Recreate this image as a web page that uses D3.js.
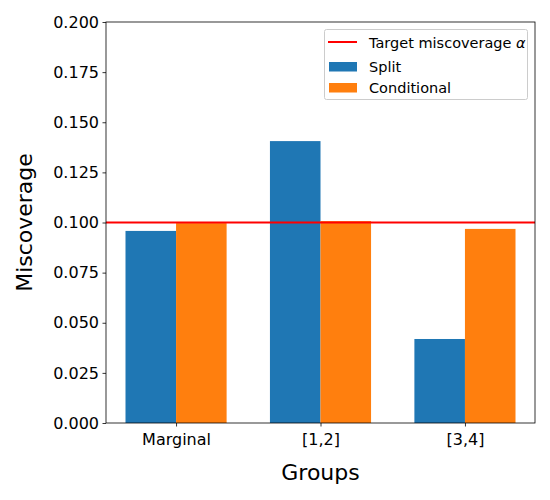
<!DOCTYPE html>
<html><head><meta charset="utf-8">
<script src="https://cdn.jsdelivr.net/npm/d3@7"></script>
<style>body{margin:0;background:#fff}svg{font-family:"DejaVu Sans",sans-serif}</style>
</head><body>
<script>
const groups = ["Marginal", "[1,2]", "[3,4]"];
const splitVals = [0.0958, 0.1406, 0.0419];
const condVals = [0.0997, 0.1007, 0.0968];
const target = 0.1;
const yTicks = [0, 0.025, 0.05, 0.075, 0.1, 0.125, 0.15, 0.175, 0.2];
const seriesNames = ["Split", "Conditional"];
const colors = ["#1f77b4", "#ff7f0e"];

const W = 550, H = 500;
const L = 106, R = 535, T = 22, B = 423;
const svg = d3.select("body").append("svg").attr("width", W).attr("height", H);

const barW = 0.35;
const x = d3.scaleLinear().domain([-0.485, 2.485]).range([L, R]);
const y = d3.scaleLinear().domain([0, 0.2]).range([B, T]);

const series = [splitVals, condVals];
series.forEach((vals, s) => {
  svg.append("g").selectAll("rect").data(vals).enter().append("rect")
    .attr("x", (d, i) => x(i + (s === 0 ? -barW : 0)))
    .attr("width", x(barW) - x(0))
    .attr("y", d => y(d))
    .attr("height", d => B - y(d))
    .attr("fill", colors[s]);
});

svg.append("line").attr("x1", L).attr("x2", R).attr("y1", y(target)).attr("y2", y(target))
  .attr("stroke", "red").attr("stroke-width", 2);

// axes
const yAxis = d3.axisLeft(y).tickValues(yTicks).tickFormat(d3.format(".3f")).tickSizeOuter(0).tickSize(3.5).tickPadding(3.5);
const gy = svg.append("g").attr("transform", `translate(${L},0)`).call(yAxis);
const xAxis = d3.axisBottom(x).tickValues([0, 1, 2]).tickFormat(i => groups[i]).tickSizeOuter(0).tickSize(3.5).tickPadding(3.5);
const gx = svg.append("g").attr("transform", `translate(0,${B})`).call(xAxis);
[gy, gx].forEach(g => {
  g.select(".domain").remove();
  g.selectAll("text").attr("font-size", 16).attr("font-family", "DejaVu Sans").attr("fill", "#000");
  g.selectAll("line").attr("stroke", "#000").attr("stroke-width", 0.8);
});
gx.selectAll("text").attr("dy", "0.95em");

svg.append("rect").attr("x", L).attr("y", T).attr("width", R - L).attr("height", B - T)
  .attr("fill", "none").attr("stroke", "#000").attr("stroke-width", 0.8);

svg.append("text").attr("x", (L + R) / 2).attr("y", 480).attr("text-anchor", "middle")
  .attr("font-size", 22).text("Groups");
svg.append("text").attr("transform", `translate(32,${(T + B) / 2}) rotate(-90)`)
  .attr("text-anchor", "middle").attr("font-size", 22).text("Miscoverage");

// legend
const lg = svg.append("g");
lg.append("rect").attr("x", 324.5).attr("y", 29.5).attr("width", 203).attr("height", 70).attr("rx", 2)
  .attr("fill", "#fff").attr("fill-opacity", 0.8).attr("stroke", "#ccc").attr("stroke-width", 1);
lg.append("line").attr("x1", 328).attr("x2", 357).attr("y1", 42).attr("y2", 42).attr("stroke", "red").attr("stroke-width", 2);
const t0 = lg.append("text").attr("x", 369).attr("y", 47.5).attr("font-size", 14.5);
t0.append("tspan").text("Target miscoverage ");
t0.append("tspan").attr("font-style", "italic").text("α");
seriesNames.forEach((n, i) => {
  const yy = 62 + i * 21;
  lg.append("rect").attr("x", 329).attr("y", yy).attr("width", 28).attr("height", 9.5).attr("fill", colors[i]);
  lg.append("text").attr("x", 369).attr("y", yy + 10).attr("font-size", 14.5).text(n);
});
</script>
</body></html>
